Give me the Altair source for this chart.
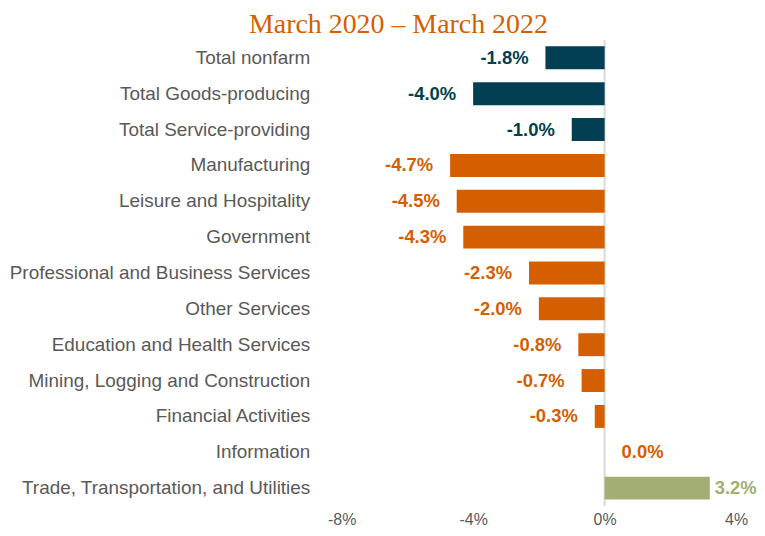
import altair as alt
import pandas as pd

categories = [
    "Total nonfarm",
    "Total Goods-producing",
    "Total Service-providing",
    "Manufacturing",
    "Leisure and Hospitality",
    "Government",
    "Professional and Business Services",
    "Other Services",
    "Education and Health Services",
    "Mining, Logging and Construction",
    "Financial Activities",
    "Information",
    "Trade, Transportation, and Utilities",
]
values = [-1.8, -4.0, -1.0, -4.7, -4.5, -4.3, -2.3, -2.0, -0.8, -0.7, -0.3, 0.0, 3.2]
colors = ["#023F52"] * 3 + ["#D55E00"] * 9 + ["#A3AF72"]

df = pd.DataFrame({
    "category": categories,
    "value": values,
    "color": colors,
    "label": [f"{v:.1f}%" for v in values],
})

xscale = alt.Scale(domain=[-8, 4], nice=False, zero=False)
yenc = alt.Y("category:N", sort=categories, title=None,
             scale=alt.Scale(paddingInner=0.36, paddingOuter=0.18),
             axis=alt.Axis(domain=False, ticks=False, labelPadding=32,
                           labelFont="Liberation Sans", labelFontSize=19,
                           labelColor="#595959", labelLimit=400,
                           minExtent=333, maxExtent=333))

base = alt.Chart(df)

bars = base.mark_bar().encode(
    x=alt.X("value:Q", scale=xscale, title=None,
            axis=alt.Axis(values=[-8, -4, 0, 4], labelExpr="datum.value + '%'",
                          grid=False, domain=False, ticks=False, labelPadding=6,
                          labelFlush=False,
                          labelFont="Liberation Sans", labelFontSize=16,
                          labelColor="#595959")),
    x2=alt.datum(0),
    y=yenc,
    color=alt.Color("color:N", scale=None),
)

zero_rule = alt.Chart(pd.DataFrame({"z": [0]})).mark_rule(
    color="#D9D9D9", strokeWidth=2
).encode(x=alt.X("z:Q", scale=xscale))

txt_style = dict(font="Liberation Sans", fontSize=18.5, fontWeight="bold", baseline="middle")

neg_text = base.transform_filter("datum.value < 0").mark_text(
    align="right", dx=-17, **txt_style
).encode(x=alt.X("value:Q", scale=xscale), y=yenc,
         text="label:N", color=alt.Color("color:N", scale=None))

zero_text = base.transform_filter("datum.value == 0").mark_text(
    align="left", dx=17, **txt_style
).encode(x=alt.X("value:Q", scale=xscale), y=yenc,
         text="label:N", color=alt.Color("color:N", scale=None))

pos_text = base.transform_filter("datum.value > 0").mark_text(
    align="left", dx=5, **txt_style
).encode(x=alt.X("value:Q", scale=xscale), y=yenc,
         text="label:N", color=alt.Color("color:N", scale=None))

chart = alt.layer(zero_rule, bars, neg_text, zero_text, pos_text).properties(
    width=396,
    height=468,
    padding={"left": 0, "top": 2, "right": 0, "bottom": 0},
    title=alt.TitleParams("March 2020 \u2013 March 2022", font="Liberation Serif",
                          fontSize=28, fontWeight="normal", color="#D55E00",
                          anchor="middle", frame="group", dx=-141, offset=0),
).configure_view(stroke=None)

chart.save("out.html", embed_options={"renderer": "svg", "actions": False})
